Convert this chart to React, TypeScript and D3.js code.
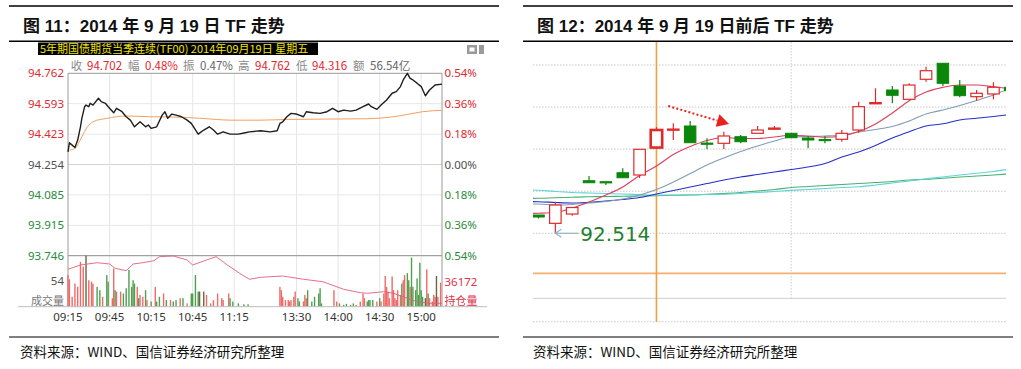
import React from "react";
import * as d3 from "d3";

// ---------------- Left panel data (intraday 2014-09-19) ----------------
const timeTickMinutes = [0, 30, 60, 90, 120, 165, 195, 225, 255];
const timeTickLabels = ["09:15", "09:45", "10:15", "10:45", "11:15", "13:30", "14:00", "14:30", "15:00"];
const priceTicks = [94.762, 94.593, 94.423, 94.254, 94.085, 93.915, 93.746];
const pctTickLabels = ["0.54%", "0.36%", "0.18%", "0.00%", "0.18%", "0.36%", "0.54%"];

const priceMinutes = [0,1,3,5,7,9,10,12,13,15,16,18,22,24,27,29,33,35,39,42,45,48,52,56,58,60,64,68,70,72,75,78,82,86,89,94,98,102,105,108,112,117,123,128,131,139,146,151,153,155,158,161,165,170,172,177,182,187,191,195,199,204,208,213,217,219,223,226,230,234,237,240,242,245,247,249,252,255,258,261,265,270];
const priceValues = [94.324,94.375,94.362,94.349,94.390,94.464,94.511,94.576,94.585,94.576,94.595,94.585,94.623,94.604,94.595,94.576,94.542,94.567,94.548,94.520,94.501,94.464,94.492,94.464,94.474,94.455,94.464,94.529,94.548,94.511,94.535,94.529,94.520,94.501,94.483,94.423,94.446,94.464,94.446,94.423,94.436,94.423,94.423,94.431,94.436,94.442,94.436,94.442,94.483,94.492,94.520,94.539,94.535,94.520,94.548,94.542,94.539,94.548,94.567,94.548,94.557,94.551,94.557,94.576,94.591,94.576,94.561,94.585,94.613,94.651,94.660,94.688,94.725,94.762,94.734,94.725,94.707,94.688,94.637,94.669,94.697,94.702];

const avgMinutes = [1,5,10,14,18,28,42,59,83,107,117,139,158,216,232,245,256,270];
const avgValues = [94.334,94.343,94.408,94.464,94.492,94.511,94.524,94.520,94.517,94.505,94.501,94.501,94.505,94.509,94.517,94.533,94.548,94.556];

const oiMinutes = [0,9,21,30,34,42,47,54,62,66,76,86,90,100,107,115,124,131,139,155,170,184,199,211,216,228,235,245,252,261,270];
const oiValues = [36519,36637,36699,36664,36547,36481,36664,36699,36754,36863,36882,36773,36637,36773,36863,36637,36410,36247,36301,36337,36247,36181,35974,35882,35865,35909,35865,35729,35636,35593,35593];

const volMinutes = [0,1,3,5,7,9,11,13,15,17,18,21,23,25,28,29,32,33,34,35,38,40,42,44,46,47,48,50,51,52,54,56,57,60,63,64,66,69,71,74,76,78,81,83,86,89,90,92,94,95,98,100,103,105,108,111,112,116,117,119,123,127,130,
  153,154,155,157,159,160,161,163,164,166,167,170,171,172,173,176,178,181,182,183,192,194,196,199,201,204,206,208,211,213,214,216,217,218,220,223,225,226,228,229,230,231,232,234,235,236,237,238,240,241,242,243,245,246,247,248,249,251,252,253,254,255,256,258,259,260,261,263,264,265,266,267,269];
const volValues = [67,58,21,49,42,95,85,108,56,53,49,42,35,21,67,53,18,81,35,32,32,28,39,78,42,56,49,42,18,25,21,35,14,11,42,11,21,28,14,14,11,14,18,18,7,28,28,67,32,32,32,25,7,14,28,18,14,28,18,11,7,5,5,
  42,35,21,14,14,11,14,21,32,18,11,11,25,18,35,11,21,28,39,7,35,11,7,4,6,4,7,4,11,28,18,11,14,14,14,11,18,11,28,65,42,32,18,64,35,18,14,35,25,49,56,67,71,56,42,104,42,35,60,25,93,35,21,18,79,28,18,11,25,21,65,21,51];
const volDirections = ("rrrrrrrkrr" + "rggrggrrgr" + "rggggggrgr" + "rgrgrggrgr" + "ggrgrggggk" + "krrrrrrrgg" + "ggg" +
  "rrrrrrrrrg" + "grrrgggggg" + "rrgggggrrr" + "rggggrgrrr" + "rrrrrrrrrg" + "rrggrggggg" + "gggkrgrrrr" + "krr").split("");

// ---------------- Right panel data (daily candles) ----------------
const candleDates = ["09-09","09-10","09-11","09-12","09-15","09-16","09-17","09-18","09-19","09-22","09-23","09-24","09-25","09-26","09-29","09-30","10-08","10-09","10-10","10-13","10-14","10-15","10-16","10-17","10-20","10-21","10-22","10-23","10-24","10-27"];
// OHLC for 09-10 .. 10-27
const opens  = [92.901,92.725,92.922,93.628,93.607,93.797,93.749,94.330,94.712,94.787,94.425,94.420,94.560,94.632,94.733,94.632,94.533,94.501,94.505,94.702,95.278,95.549,95.352,95.776,96.115,95.634,95.408,95.465,95.607];
const highs  = [92.905,93.183,93.070,93.727,93.607,93.891,94.293,94.762,94.844,94.893,94.526,94.666,94.596,94.787,94.787,94.632,94.575,94.575,94.702,95.302,95.585,95.634,95.691,96.043,96.115,95.761,95.549,95.713,95.634];
const lows   = [92.827,92.514,92.886,93.585,93.537,93.691,93.685,94.316,94.490,94.433,94.293,94.299,94.420,94.632,94.702,94.539,94.314,94.420,94.454,94.645,95.278,95.268,95.352,95.725,95.634,95.395,95.323,95.352,95.528];
const closes = [92.859,93.113,93.060,93.585,93.585,93.691,94.293,94.702,94.722,94.433,94.415,94.575,94.454,94.702,94.743,94.539,94.490,94.484,94.632,95.196,95.282,95.437,95.655,95.958,95.691,95.429,95.480,95.607,95.535];
// moving averages for 09-09 .. 10-27
const ma5  = [92.933,92.939,92.954,93.049,93.177,93.325,93.494,93.738,93.939,94.183,94.352,94.480,94.543,94.522,94.522,94.554,94.592,94.575,94.549,94.575,94.670,94.829,95.062,95.323,95.507,95.605,95.655,95.655,95.617,95.571];
const ma10 = [93.134,93.134,93.113,93.124,93.155,93.187,93.240,93.325,93.441,93.600,93.780,93.960,94.109,94.246,94.363,94.469,94.554,94.564,94.575,94.596,94.660,94.713,94.776,94.893,95.041,95.126,95.221,95.327,95.444,95.592];
const ma20 = [93.187,93.183,93.166,93.155,93.172,93.198,93.230,93.272,93.346,93.420,93.494,93.569,93.643,93.706,93.759,93.812,93.865,93.918,93.992,94.130,94.236,94.374,94.533,94.666,94.787,94.833,94.914,94.950,94.988,95.030];
const ma60 = [93.441,93.427,93.399,93.378,93.367,93.357,93.346,93.335,93.325,93.325,93.329,93.335,93.342,93.357,93.378,93.399,93.424,93.441,93.463,93.484,93.501,93.537,93.579,93.621,93.668,93.706,93.749,93.785,93.823,93.876];
const ma120 = [93.251,93.255,93.266,93.276,93.287,93.293,93.299,93.304,93.310,93.319,93.325,93.340,93.357,93.378,93.410,93.441,93.484,93.505,93.526,93.547,93.569,93.590,93.611,93.643,93.658,93.681,93.706,93.727,93.749,93.774];
const rightGridPrices = [96.079, 95.188, 94.296, 93.405, 92.514];
const rightLowerLines = [91.666, 91.136, 90.641];

const RED = "#e2262e";
const GREEN = "#2a8a3a";
const GRAY = "#505050";
const LABEL_FONT = "'Noto Sans', 'Open Sans', sans-serif";
const CJK = "'Noto Sans CJK SC', 'Noto Sans', sans-serif";
const TITLE_FONT = "'Liberation Sans', 'Noto Sans CJK SC', sans-serif";

export default function App() {
  // ---- left scales
  const lx = d3.scaleLinear().domain([0, 270]).range([68, 442]);
  const ly = d3.scaleLinear().domain([93.746, 94.762]).range([255.7, 73.3]);
  const vy = d3.scaleLinear().domain([0, 108]).range([306.7, 255.7]);
  const oy = d3.scaleLinear().domain([35500, 36890]).range([306.7, 255.7]);

  const priceLine = d3.line<number>().x((_, i) => lx(priceMinutes[i])).y((d) => ly(d)).curve(d3.curveLinear)(priceValues) || "";
  const avgLine = d3.line<number>().x((_, i) => lx(avgMinutes[i])).y((d) => ly(d)).curve(d3.curveMonotoneX)(avgValues) || "";
  const oiLine = d3.line<number>().x((_, i) => lx(oiMinutes[i])).y((d) => oy(d))(oiValues) || "";

  const labelColor = (i: number) => (i < 3 ? RED : i === 3 ? GRAY : GREEN);
  const volColor: Record<string, string> = { r: "#f06a6a", g: "#4f9f4f", k: "#6d6440" };

  // ---- right scales
  const rx = d3.scaleLinear().domain([-1, 28]).range([521.65, 1010.3]);
  const dateX = (d: string) => rx(candleDates.indexOf(d) - 1);
  const ry = d3.scaleLinear().domain([92.514, 94.702]).range([233.3, 130]);
  const maLine = (vals: number[]) =>
    d3.line<number>().x((_, i) => rx(i - 1)).y((d) => ry(d)).curve(d3.curveMonotoneX)(vals) || "";
  const bodyW = 11.5;

  // annotation arrow (in data space: index, price)
  const arrowStart: [number, number] = [7.7, 95.21];
  const arrowTip: [number, number] = [11.31, 94.829];
  const sx = rx(arrowStart[0]), sy = ry(arrowStart[1]);
  const tx = rx(arrowTip[0]), ty = ry(arrowTip[1]);
  const len = Math.hypot(tx - sx, ty - sy);
  const ux = (tx - sx) / len, uy = (ty - sy) / len;
  const headL = 12, headW = 6.5;
  const bx = tx - ux * headL, by = ty - uy * headL;

  const lowIdx = 1; // candle with the 92.514 low
  const lowX = rx(lowIdx);
  const lowY = ry(lows[lowIdx]);

  return (
    <svg width={1021} height={369} style={{ position: "fixed", left: 0, top: 0, background: "#fff" }}
      fontFamily={LABEL_FONT}>
      <defs>
        <clipPath id="rclip"><rect x={533} y={42} width={473} height={282} /></clipPath>
      </defs>
      {/* ================= LEFT PANEL ================= */}
      <line x1={9} x2={499} y1={6} y2={6} stroke="#000" strokeWidth={1.5} />
      <text x={23} y={32} fontFamily={TITLE_FONT} fontWeight="bold" fontSize={17} fill="#111">
        图 11：2014 年 9 月 19 日 TF 走势
      </text>
      <line x1={9} x2={499} y1={41.3} y2={41.3} stroke="#000" strokeWidth={1.5} />

      <rect x={38} y={42.5} width={280} height={12.5} fill="#000" />
      <text x={40} y={52.5} fontFamily={CJK} fontSize={11} fill="#f2e600">
        5年期国债期货当季连续(TF00) 2014年09月19日 星期五
      </text>
      <rect x={467} y={45} width={10} height={9} fill="#9a9a9a" />
      <rect x={469.5} y={47.5} width={5} height={4} fill="#fff" />
      <rect x={479} y={45} width={5} height={9} fill="#9a9a9a" />

      {/* info row */}
      <g fontFamily={CJK} fontSize={11.5} >
        <text x={70.7} y={70} fill="#8a8a8a">收</text>
        <text x={87} y={70} fill={RED}>94.702</text>
        <text x={128} y={70} fill="#8a8a8a">幅</text>
        <text x={145} y={70} fill={RED}>0.48%</text>
        <text x={183} y={70} fill="#8a8a8a">振</text>
        <text x={200} y={70} fill="#666">0.47%</text>
        <text x={238} y={70} fill="#8a8a8a">高</text>
        <text x={255} y={70} fill={RED}>94.762</text>
        <text x={296} y={70} fill="#8a8a8a">低</text>
        <text x={312} y={70} fill={RED}>94.316</text>
        <text x={353} y={70} fill="#8a8a8a">额</text>
        <text x={370} y={70} fill="#666">56.54亿</text>
      </g>

      {/* grid */}
      {priceTicks.slice(1, 6).map((p, i) => (
        <line key={"hg" + i} x1={68} x2={442} y1={ly(p)} y2={ly(p)} stroke={i === 2 ? "#d4d4d4" : "#e8e8e8"} />
      ))}
      {timeTickMinutes.slice(1).map((m) => (
        <line key={"vg" + m} x1={lx(m)} x2={lx(m)} y1={73.3} y2={306.7} stroke="#e6e6e6" />
      ))}
      <line x1={68} x2={442} y1={73.3} y2={73.3} stroke="#9a9a9a" />
      <line x1={68} x2={442} y1={ly(93.746)} y2={ly(93.746)} stroke="#8a8a8a" />
      <line x1={68} x2={68} y1={73.3} y2={306.7} stroke="#9a9a9a" />
      <line x1={442} x2={442} y1={73.3} y2={306.7} stroke="#9a9a9a" />

      {/* volume bars */}
      {volValues.map((v, i) => (
        <rect key={"vb" + i} x={lx(volMinutes[i]) - 0.7} width={1.4} y={vy(v)} height={vy(0) - vy(v)}
          fill={volColor[volDirections[i]]} />
      ))}
      <path d={oiLine} fill="none" stroke="#e0607a" strokeWidth={0.9} />
      <line x1={18} x2={487} y1={306.7} y2={306.7} stroke="#bdbdbd" />

      {/* price & avg lines */}
      <path d={avgLine} fill="none" stroke="#f2a060" strokeWidth={1} />
      <path d={priceLine} fill="none" stroke="#1e1e1e" strokeWidth={1.4} strokeLinejoin="round" />

      {/* axis labels */}
      <g fontSize={11.5}>
        {priceTicks.map((p, i) => (
          <text key={"pl" + i} x={64} y={ly(p)} dy="0.35em" textAnchor="end" fill={i === 6 ? GREEN : labelColor(i)}>
            {p.toFixed(3)}
          </text>
        ))}
        {pctTickLabels.map((t, i) => (
          <text key={"pr" + i} x={444.5} y={ly(priceTicks[i])} dy="0.35em" fill={i === 6 ? GREEN : labelColor(i)}>
            {t}
          </text>
        ))}
        <text x={64} y={vy(54)} dy="0.35em" textAnchor="end" fill={GRAY}>54</text>
        <text x={444.5} y={oy(36172)} dy="0.35em" fill="#e0304a">36172</text>
        <text x={64} y={301.5} dy="0.35em" textAnchor="end" fill="#777" fontFamily={CJK} fontSize={11}>成交量</text>
        <text x={444.5} y={301.5} dy="0.35em" fill="#e0304a" fontFamily={CJK} fontSize={11}>持仓量</text>
        {timeTickMinutes.map((m, i) => (
          <text key={"tl" + i} x={lx(m)} y={316.5} dy="0.35em" textAnchor="middle" fill="#333">
            {timeTickLabels[i]}
          </text>
        ))}
      </g>

      {/* ================= RIGHT PANEL ================= */}
      <line x1={523} x2={1013} y1={6} y2={6} stroke="#000" strokeWidth={1.5} />
      <text x={537} y={32} fontFamily={TITLE_FONT} fontWeight="bold" fontSize={17} fill="#111">
        图 12：2014 年 9 月 19 日前后 TF 走势
      </text>
      <line x1={523} x2={1013} y1={41.3} y2={41.3} stroke="#000" strokeWidth={1.5} />

      {rightGridPrices.map((p, i) => (
        <line key={"rg" + i} x1={533} x2={1006} y1={ry(p)} y2={ry(p)} stroke="#c8c8c8" strokeDasharray="1.5,1.5" />
      ))}
      <line x1={533} x2={1006} y1={ry(rightLowerLines[0])} y2={ry(rightLowerLines[0])} stroke="#f5b070" strokeWidth={1.6} />
      <line x1={533} x2={1006} y1={ry(rightLowerLines[1])} y2={ry(rightLowerLines[1])} stroke="#cfcfcf" strokeWidth={1} />
      <line x1={533} x2={1006} y1={ry(rightLowerLines[2])} y2={ry(rightLowerLines[2])} stroke="#c8c8c8" strokeDasharray="1.5,1.5" />
      <line x1={dateX("10-08")} x2={dateX("10-08")} y1={42} y2={298} stroke="#cfcfcf" strokeDasharray="1.5,1.5" />
      <line x1={dateX("09-19")} x2={dateX("09-19")} y1={42} y2={322} stroke="#f0a040" strokeWidth={1.6} />

      <g clipPath="url(#rclip)">
        <path d={maLine(ma120)} fill="none" stroke="#48b070" strokeWidth={1.1} />
        <path d={maLine(ma60)} fill="none" stroke="#5fd4d8" strokeWidth={1.1} />
        <path d={maLine(ma20)} fill="none" stroke="#2430c8" strokeWidth={1.1} />
        <path d={maLine(ma10)} fill="none" stroke="#7f9db4" strokeWidth={1.1} />
        <path d={maLine(ma5)} fill="none" stroke="#dc3e5c" strokeWidth={1.1} />
        {opens.map((o, i) => {
          const c = closes[i];
          const up = c >= o;
          const x = rx(i);
          const top = ry(Math.max(o, c));
          const h = Math.max(1.2, Math.abs(ry(o) - ry(c)));
          const col = up ? "#e02a2a" : "#0a860a";
          const thick = candleDates[i + 1] === "09-19";
          return (
            <g key={"cd" + i}>
              <line x1={x} x2={x} y1={ry(highs[i])} y2={ry(lows[i])} stroke={col} strokeWidth={1.2} />
              {up ? (
                <rect x={x - bodyW / 2} y={top} width={bodyW} height={h} fill="#fff" stroke={col}
                  strokeWidth={thick ? 2.6 : 1.2} />
              ) : (
                <rect x={x - bodyW / 2} y={top} width={bodyW} height={h} fill={col} stroke={col} strokeWidth={1} />
              )}
            </g>
          );
        })}
      </g>

      {/* red dotted annotation arrow */}
      <line x1={sx} y1={sy} x2={bx} y2={by} stroke="#e8201e" strokeWidth={2} strokeDasharray="2,2.2" />
      <polygon points={`${tx},${ty} ${bx - uy * headW},${by + ux * headW} ${bx + uy * headW},${by - ux * headW}`}
        fill="#e8201e" />

      {/* 92.514 low marker */}
      <line x1={lowX} x2={lowX + 23} y1={lowY} y2={lowY} stroke="#8fb4cc" strokeWidth={1.2} />
      <polyline points={`${lowX + 6},${lowY - 4} ${lowX},${lowY} ${lowX + 6},${lowY + 4}`} fill="none" stroke="#8fb4cc" strokeWidth={1.2} />
      <text x={lowX + 25} y={lowY} dy="0.36em" fontFamily="'DejaVu Sans', sans-serif" fontSize={20} fill="#1f8030">
        {lows[lowIdx].toFixed(3)}
      </text>

      {/* ================= FOOTERS ================= */}
      <line x1={9} x2={499} y1={337} y2={337} stroke="#000" strokeWidth={1} />
      <line x1={523} x2={1013} y1={337} y2={337} stroke="#000" strokeWidth={1} />
      <text x={20} y={357} fontFamily={CJK} fontSize={13.5} fill="#111">资料来源：WIND、国信证券经济研究所整理</text>
      <text x={533} y={357} fontFamily={CJK} fontSize={13.5} fill="#111">资料来源：WIND、国信证券经济研究所整理</text>
    </svg>
  );
}
